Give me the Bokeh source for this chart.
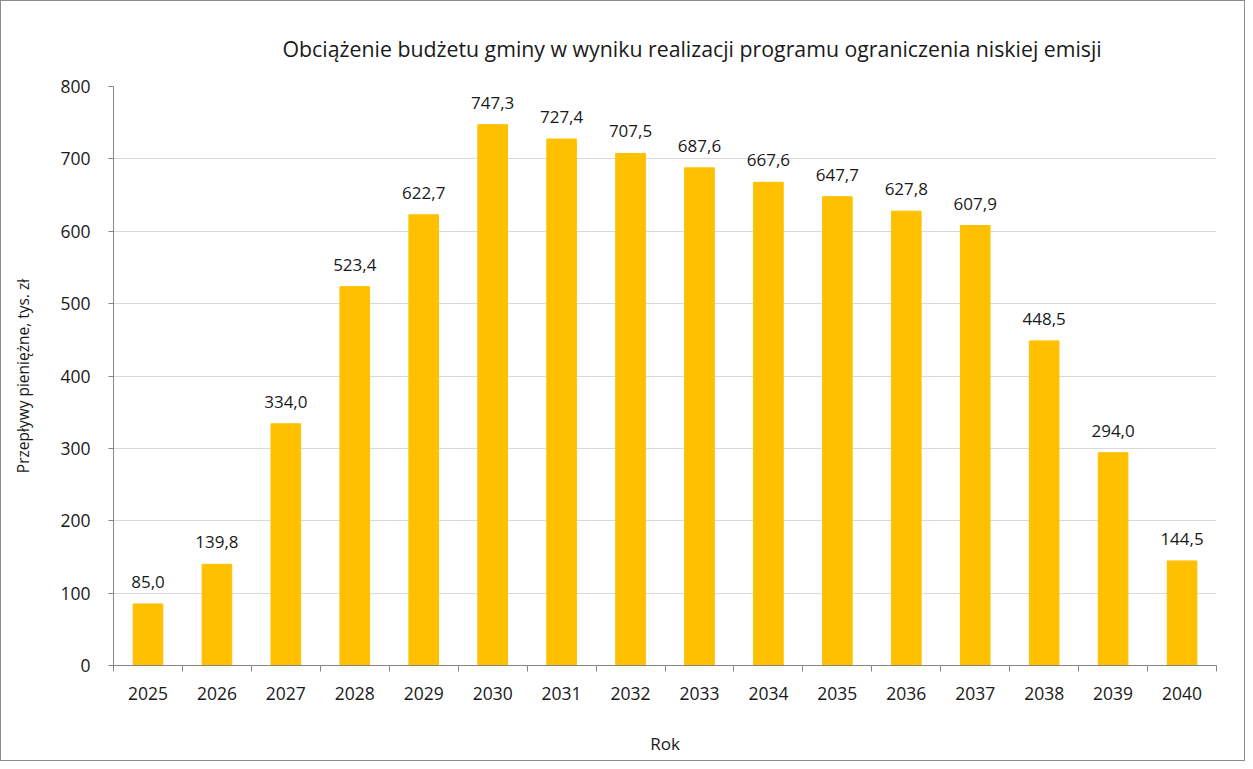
from bokeh.plotting import figure
from bokeh.models import ColumnDataSource, FixedTicker, Range1d, Title, NumeralTickFormatter
from bokeh.core.properties import value
from bokeh.embed import file_html
from bokeh.resources import INLINE

years = list(range(2025, 2041))
values = [85.0, 139.8, 334.0, 523.4, 622.7, 747.3, 727.4, 707.5, 687.6, 667.6,
          647.7, 627.8, 607.9, 448.5, 294.0, 144.5]
labels = [f"{v:.1f}".replace(".", ",") for v in values]
y_ticks = [0, 100, 200, 300, 400, 500, 600, 700, 800]

title_text = "Obciążenie budżetu gminy w wyniku realizacji programu ograniczenia niskiej emisji"
y_label = "Przepływy pieniężne, tys. zł"
x_label = "Rok"

FONT = "Open Sans"
TXT = "#1a1a1a"
AX = "#868686"

src = ColumnDataSource(dict(x=years, top=values, lab=labels))

p = figure(width=1245, height=761, output_backend="svg", toolbar_location=None,
           x_range=Range1d(years[0] - 0.5, years[-1] + 0.5),
           y_range=Range1d(0, 800),
           min_border_left=112, min_border_right=30, min_border_top=85, min_border_bottom=97,
           styles={"border": "1px solid #8c8c8c", "box-sizing": "border-box"})
p.title = None
t = Title(text=title_text, align="left", offset=169, standoff=47,
          text_font=FONT, text_font_size="21.3px", text_font_style="normal", text_color=TXT)
p.add_layout(t, "above")
p.outline_line_color = None
p.background_fill_color = "white"
p.border_fill_color = "white"

p.vbar(x="x", top="top", width=0.43, bottom=0, source=src, color="#FFC000")
p.text(x="x", y="top", text="lab", source=src, y_offset=-16,
       text_align="center", text_baseline="bottom",
       text_font=value(FONT), text_font_size="17px", text_color=TXT)

p.xgrid.grid_line_color = None
p.ygrid.grid_line_color = "#d9d9d9"
p.ygrid.ticker = FixedTicker(ticks=y_ticks)

xa = p.xaxis[0]
xa.ticker = FixedTicker(ticks=years, minor_ticks=[y - 0.5 for y in years] + [years[-1] + 0.5])
xa.formatter = NumeralTickFormatter(format="0")
xa.major_tick_out = 0
xa.major_tick_in = 0
xa.minor_tick_out = 6
xa.minor_tick_in = 0
xa.minor_tick_line_color = AX
xa.axis_line_color = AX
xa.major_label_text_font = FONT
xa.major_label_text_font_size = "17.5px"
xa.major_label_text_color = TXT
xa.major_label_standoff = 15
xa.axis_label = x_label
xa.axis_label_text_font = FONT
xa.axis_label_text_font_size = "17px"
xa.axis_label_text_font_style = "normal"
xa.axis_label_text_color = TXT
xa.axis_label_standoff = 29

ya = p.yaxis[0]
ya.ticker = FixedTicker(ticks=y_ticks)
ya.minor_tick_line_color = None
ya.major_tick_out = 5
ya.major_tick_in = 0
ya.major_tick_line_color = AX
ya.axis_line_color = AX
ya.major_label_text_font = FONT
ya.major_label_text_font_size = "17.5px"
ya.major_label_text_color = TXT
ya.major_label_standoff = 18
ya.axis_label = y_label
ya.axis_label_text_font = FONT
ya.axis_label_text_font_size = "15.5px"
ya.axis_label_text_font_style = "normal"
ya.axis_label_text_color = TXT
ya.axis_label_standoff = 23

open("out.html", "w").write(file_html(p, INLINE))
